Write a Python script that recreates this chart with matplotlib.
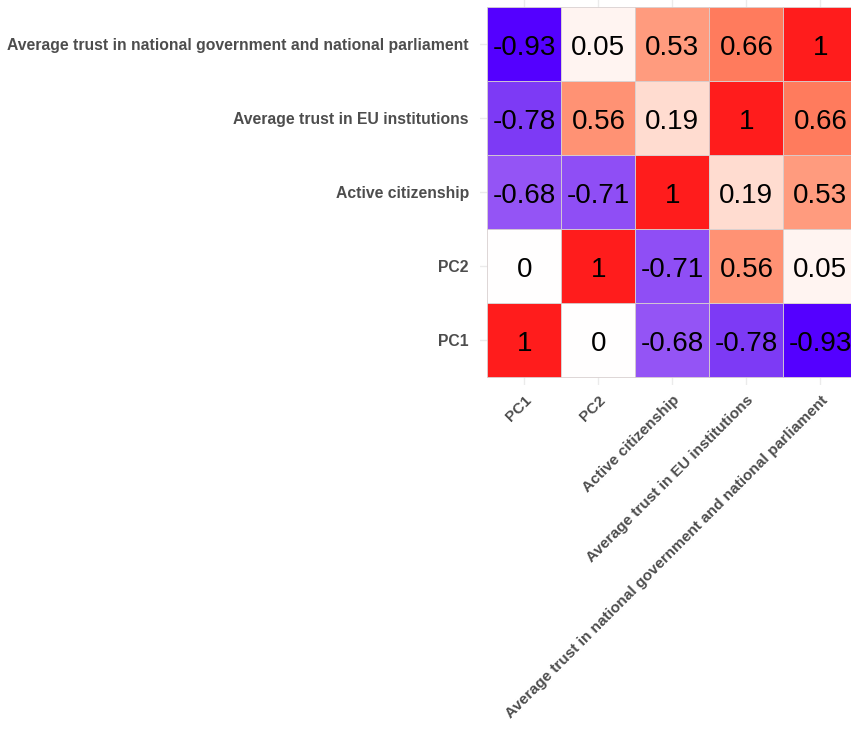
import numpy as np
import matplotlib
matplotlib.use("Agg")
import matplotlib.pyplot as plt
from matplotlib.colors import LinearSegmentedColormap, Normalize

# variables (bottom to top on y, left to right on x)
labels = ["PC1", "PC2", "Active citizenship",
          "Average trust in EU institutions",
          "Average trust in national government and national parliament"]

# correlation matrix, row i = labels[i]
row_pc1 = [1, 0, -0.68, -0.78, -0.93]
row_pc2 = [0, 1, -0.71, 0.56, 0.05]
row_active = [-0.68, -0.71, 1, 0.19, 0.53]
row_eu = [-0.78, 0.56, 0.19, 1, 0.66]
row_nat = [-0.93, 0.05, 0.53, 0.66, 1]
corr = np.array([row_pc1, row_pc2, row_active, row_eu, row_nat])

# blue - white - red, roughly like ggplot's gradient2 in Lab space
cmap = LinearSegmentedColormap.from_list("bwr_gg", [
    (0.00, "#4a00ff"),
    (0.035, "#5500ff"),
    (0.11, "#7d3af5"),
    (0.16, "#9656f5"),
    (0.30, "#c39ef8"),
    (0.50, "#ffffff"),
    (0.525, "#fff4f1"),
    (0.595, "#ffdcd1"),
    (0.765, "#ff9b7e"),
    (0.78, "#ff9274"),
    (0.83, "#ff7c5e"),
    (1.00, "#ff1c1c"),
])
norm = Normalize(-1, 1)

W, H = 851, 731
fig = plt.figure(figsize=(W / 100, H / 100), dpi=100)
unit = 74.0
left = 480
top = 0
ax = fig.add_axes([left / W, (H - top - 5.2 * unit) / H, 5.2 * unit / W, 5.2 * unit / H])

n = len(labels)
for i in range(n):
    for j in range(n):
        v = corr[i, j]
        ax.add_patch(plt.Rectangle((j - 0.5, i - 0.5), 1, 1, facecolor=cmap(norm(v)),
                                   edgecolor="#d8d0d0", linewidth=0.6, zorder=2))
        ax.text(j, i - 0.05, f"{v:g}", ha="center", va="center", fontsize=20,
                family="Liberation Sans", color="black", zorder=3)

ax.set_xlim(-0.6, n - 0.4)
ax.set_ylim(-0.6, n - 0.4)
ax.set_xticks(range(n))
ax.set_yticks(range(n))
ax.set_xticklabels(labels, rotation=45, ha="right", rotation_mode="anchor")
ax.set_yticklabels(labels)
for t in ax.get_xticklabels():
    t.set_family("Liberation Sans")
    t.set_fontweight("bold")
    t.set_fontsize(11.1)
    t.set_color("#4d4d4d")
for t in ax.get_yticklabels():
    t.set_family("Liberation Sans")
    t.set_fontweight("bold")
    t.set_fontsize(11.3)
    t.set_color("#4d4d4d")
ax.tick_params(axis="y", length=0, pad=8)
ax.tick_params(axis="x", length=0, pad=6)
ax.grid(True, color="#ebebeb", linewidth=1.0, zorder=0)
ax.set_axisbelow(True)
for s in ax.spines.values():
    s.set_visible(False)

fig.savefig("out.png", dpi=100)
